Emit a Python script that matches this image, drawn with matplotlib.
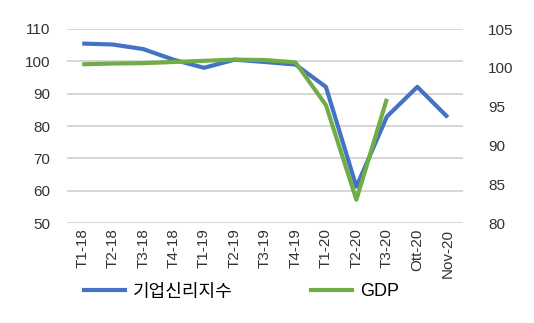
import numpy as np
import matplotlib.pyplot as plt
from matplotlib.lines import Line2D

plt.rcParams['font.family'] = ['Liberation Sans', 'Noto Sans CJK KR']

labels = ["T1-18", "T2-18", "T3-18", "T4-18", "T1-19", "T2-19", "T3-19",
          "T4-19", "T1-20", "T2-20", "T3-20", "Ott-20", "Nov-20"]
confidence = [105.5, 105.2, 103.8, 100.5, 98.0, 100.5, 99.8, 99.0,
              92.1, 61.2, 82.9, 92.1, 82.7]
gdp = [100.45, 100.55, 100.6, 100.75, 100.9, 101.05, 101.0, 100.7,
       95.2, 83.0, 96.0]

blue = '#4472C4'
green = '#70AD47'

fig = plt.figure(figsize=(5.34, 3.23), dpi=100)
ax = fig.add_axes([67 / 534, 1 - 223 / 323, 396 / 534, 194 / 323])
ax2 = ax.twinx()

x = np.arange(len(labels))
ax.plot(x, confidence, color=blue, lw=3, solid_capstyle='butt', zorder=3)
ax2.plot(x[:len(gdp)], gdp, color=green, lw=3, solid_capstyle='butt', zorder=3)

ax.set_xlim(-0.5, len(labels) - 0.5)
ax.set_ylim(50, 110)
ax.set_yticks(range(50, 111, 10))
ax2.set_ylim(80, 105)
ax2.set_yticks(range(80, 106, 5))

ax.grid(axis='y', color='#D0D0D0', lw=1.2)
ax.set_axisbelow(True)
for a in (ax, ax2):
    for s in a.spines.values():
        s.set_visible(False)
    a.tick_params(length=0, labelsize=11, colors='#333333')

ax.set_xticks(x)
ax.set_xticklabels(labels, rotation=90)
ax.tick_params(axis='x', pad=4)
ax.tick_params(axis='y', pad=12)
ax2.tick_params(axis='y', pad=18)

handles = [Line2D([], [], color=blue, lw=3), Line2D([], [], color=green, lw=3)]
fig.legend(handles, ['기업신리지수', 'GDP'], loc='center', ncol=2,
           bbox_to_anchor=(0.452, 1 - 292 / 323), frameon=False, fontsize=13,
           handlelength=2.3, columnspacing=4.3, handletextpad=0.45)

fig.savefig('out.png', dpi=100)
